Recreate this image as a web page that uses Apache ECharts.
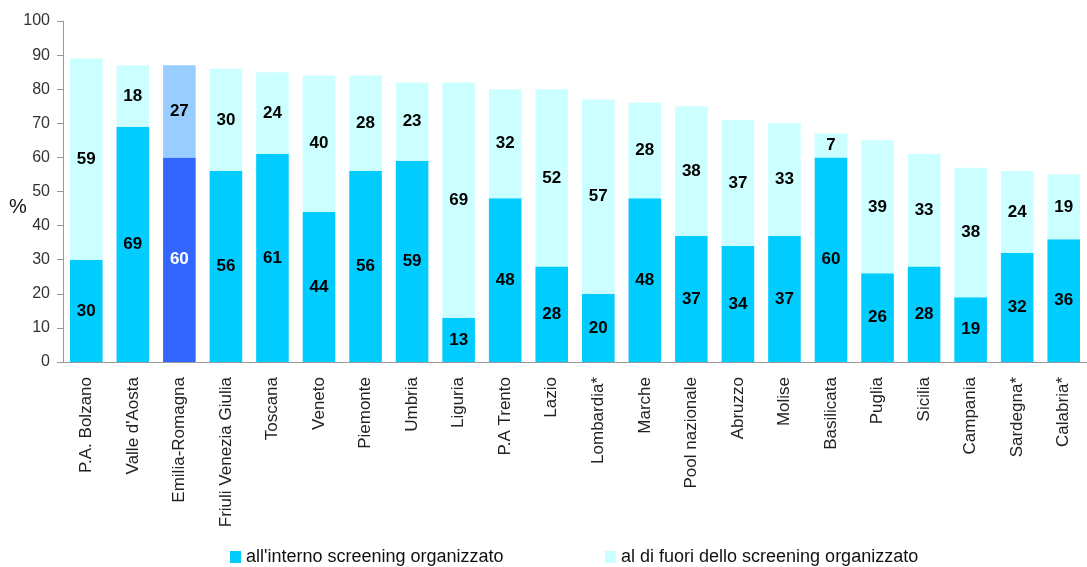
<!DOCTYPE html>
<html>
<head>
<meta charset="utf-8">
<script src="https://cdn.jsdelivr.net/npm/echarts@6/dist/echarts.min.js"></script>
<style>
  html, body { margin: 0; padding: 0; background: #fff; }
  #chart { width: 1087px; height: 567px; }
</style>
</head>
<body>
<div id="chart"></div>
<script>
var categories = ['P.A. Bolzano', "Valle d'Aosta", 'Emilia-Romagna', 'Friuli Venezia Giulia', 'Toscana',
  'Veneto', 'Piemonte', 'Umbria', 'Liguria', 'P.A Trento', 'Lazio', 'Lombardia*', 'Marche',
  'Pool nazionale', 'Abruzzo', 'Molise', 'Basilicata', 'Puglia', 'Sicilia', 'Campania',
  'Sardegna*', 'Calabria*'];
var inside = [30, 69, 60, 56, 61, 44, 56, 59, 13, 48, 28, 20, 48, 37, 34, 37, 60, 26, 28, 19, 32, 36];
var outside = [59, 18, 27, 30, 24, 40, 28, 23, 69, 32, 52, 57, 28, 38, 37, 33, 7, 39, 33, 38, 24, 19];
var highlight = 'Emilia-Romagna';

var font = '"Liberation Sans", Arial, sans-serif';

function mark(values, hiColor, hiLabel) {
  return values.map(function (v, i) {
    if (categories[i] === highlight) {
      var item = { value: v, itemStyle: { color: hiColor } };
      if (hiLabel) item.label = { color: hiLabel };
      return item;
    }
    return v;
  });
}

var legendText = { fontSize: 18, color: '#111', fontFamily: font };

var chart = echarts.init(document.getElementById('chart'));
var option = {
  animation: false,
  textStyle: { fontFamily: font },
  legend: [
    {
      data: ['all\'interno screening organizzato'],
      left: 225, top: 543,
      icon: 'rect', itemWidth: 11, itemHeight: 12, itemGap: 5,
      textStyle: legendText
    },
    {
      data: ['al di fuori dello screening organizzato'],
      left: 600, top: 543,
      icon: 'rect', itemWidth: 11, itemHeight: 12, itemGap: 5,
      textStyle: legendText
    }
  ],
  graphic: [
    {
      type: 'text', left: 9, top: 197,
      style: { text: '%', fontSize: 20, fill: '#111', fontFamily: font }
    }
  ],
  grid: { left: 63, top: 21, width: 1031, height: 341 },
  xAxis: {
    type: 'category',
    data: categories,
    axisLine: { lineStyle: { color: '#999' } },
    axisTick: { length: 5, lineStyle: { color: '#999' } },
    axisLabel: { rotate: 90, interval: 0, margin: 15, fontSize: 17, color: '#222', fontFamily: font }
  },
  yAxis: {
    type: 'value',
    min: 0, max: 100, interval: 10,
    splitLine: { show: false },
    axisLine: { show: true, lineStyle: { color: '#999' } },
    axisTick: { show: true, length: 6, lineStyle: { color: '#999' } },
    axisLabel: { fontSize: 16, color: '#333', margin: 13, fontFamily: font }
  },
  series: [
    {
      name: 'all\'interno screening organizzato',
      type: 'bar',
      stack: 'tot',
      barCategoryGap: '30%',
      itemStyle: { color: '#00CCFF' },
      label: { show: true, position: 'inside', fontSize: 17, fontWeight: 'bold', color: '#000', fontFamily: font },
      data: mark(inside, '#3366FF', '#fff')
    },
    {
      name: 'al di fuori dello screening organizzato',
      type: 'bar',
      stack: 'tot',
      barCategoryGap: '30%',
      itemStyle: { color: '#CCFFFF' },
      label: { show: true, position: 'inside', fontSize: 17, fontWeight: 'bold', color: '#000', fontFamily: font },
      data: mark(outside, '#99CCFF')
    }
  ]
};
chart.setOption(option);
</script>
</body>
</html>
